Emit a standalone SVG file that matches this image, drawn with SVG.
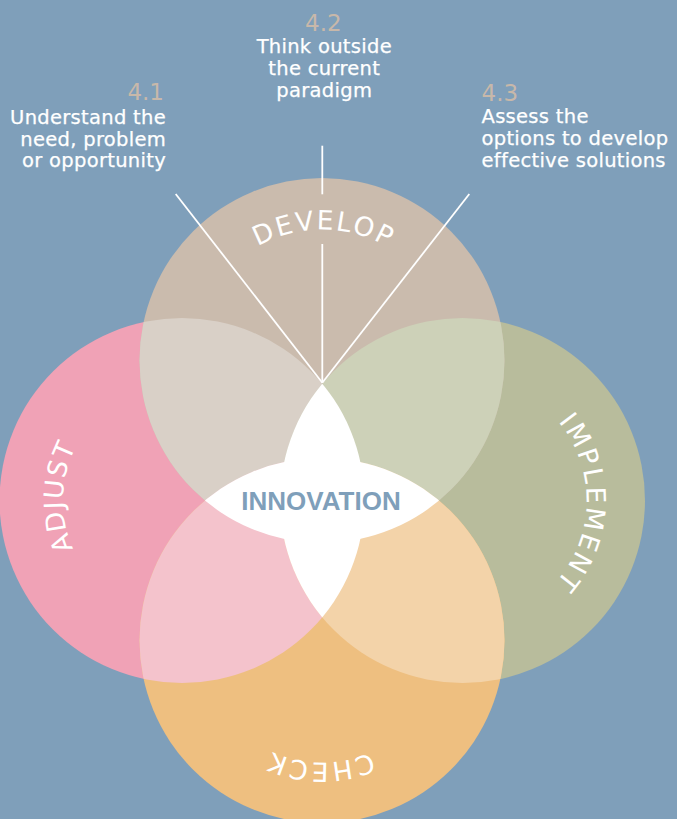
<svg xmlns="http://www.w3.org/2000/svg" width="677" height="819" viewBox="0 0 677 819">
<style>
.cap{font-family:"DejaVu Sans","Liberation Sans",sans-serif;font-size:19.5px;fill:#ffffff;stroke:#ffffff;stroke-width:0.25px;letter-spacing:0.3px}
.num{font-family:"DejaVu Sans","Liberation Sans",sans-serif;font-size:23px;fill:#c8b8aa}
.lbl{font-family:"DejaVu Sans","Liberation Sans",sans-serif;font-size:26.5px;fill:#ffffff}
.conn{stroke:#ffffff;stroke-width:1.8;fill:none}
</style>
<defs>
<clipPath id="clipT"><circle cx="322" cy="360.5" r="182.5"/></clipPath>
<clipPath id="clipB"><circle cx="322" cy="640.5" r="182.5"/></clipPath>
<clipPath id="clipR"><circle cx="462.5" cy="500.5" r="182.5"/></clipPath>
<path id="pDev" d="M322,491.5 A131,131 0 0 1 322,229.5 A131,131 0 0 1 322,491.5"/>
<path id="pAdj" d="M301,500.5 A119,119 0 0 1 63,500.5 A119,119 0 0 1 301,500.5"/>
<path id="pImp" d="M338.5,500.5 A124,124 0 0 1 586.5,500.5 A124,124 0 0 1 338.5,500.5"/>
<path id="pChk" d="M322,518.5 A122,122 0 0 1 322,762.5 A122,122 0 0 1 322,518.5"/>
</defs>
<rect width="677" height="819" fill="#7f9fba"/>

<g id="circles">
<circle id="c-adjust" cx="182" cy="500.5" r="182.5" fill="#f0a2b6"/>
<circle id="c-implement" cx="462.5" cy="500.5" r="182.5" fill="#b8bc9c"/>
<circle id="c-develop" cx="322" cy="360.5" r="182.5" fill="#cabbad"/>
<circle id="c-check" cx="322" cy="640.5" r="182.5" fill="#eebf80"/>
<circle cx="182" cy="500.5" r="182.5" fill="#d9d0c7" clip-path="url(#clipT)"/>
<circle cx="462.5" cy="500.5" r="182.5" fill="#cdd1b8" clip-path="url(#clipT)"/>
<circle cx="182" cy="500.5" r="182.5" fill="#f4c3cc" clip-path="url(#clipB)"/>
<circle cx="462.5" cy="500.5" r="182.5" fill="#f3d3a9" clip-path="url(#clipB)"/>
</g>

<g id="innovation">
<circle cx="182" cy="500.5" r="182.5" fill="#ffffff" clip-path="url(#clipR)"/>
<circle cx="322" cy="360.5" r="182.5" fill="#ffffff" clip-path="url(#clipB)"/>
<text x="321" y="510" text-anchor="middle" font-family="'Liberation Sans',Arial,sans-serif" font-weight="bold" font-size="26" fill="#7f9fba">INNOVATION</text>
</g>

<g id="connectors">
<line class="conn" x1="175.7" y1="194" x2="322.3" y2="382.7"/>
<line class="conn" x1="469.3" y1="194" x2="322.3" y2="382.7"/>
<line class="conn" x1="322.3" y1="145.7" x2="322.3" y2="194.3"/>
<line class="conn" x1="322.3" y1="244" x2="322.3" y2="382.7"/>
</g>

<g id="develop">
<text class="lbl" style="letter-spacing:2.1px"><textPath href="#pDev" startOffset="50.2%" text-anchor="middle">DEVELOP</textPath></text>
</g>
<g id="adjust">
<text class="lbl" style="letter-spacing:1.4px"><textPath href="#pAdj" startOffset="50.5%" text-anchor="middle">ADJUST</textPath></text>
</g>
<g id="implement">
<text class="lbl" style="letter-spacing:2.6px"><textPath href="#pImp" startOffset="50.4%" text-anchor="middle">IMPLEMENT</textPath></text>
</g>
<g id="check">
<text class="lbl" style="letter-spacing:2.4px"><textPath href="#pChk" startOffset="50.2%" text-anchor="middle">CHECK</textPath></text>
</g>

<g id="step-4-1">
<text class="num" x="164" y="100" text-anchor="end">4.1</text>
<text class="cap" text-anchor="end"><tspan x="166" y="123.5">Understand the</tspan><tspan x="166" y="145.5">need, problem</tspan><tspan x="166" y="167">or opportunity</tspan></text>
</g>
<g id="step-4-2">
<text class="num" x="323.3" y="31" text-anchor="middle">4.2</text>
<text class="cap" text-anchor="middle"><tspan x="324.3" y="52.7">Think outside</tspan><tspan x="324.3" y="75">the current</tspan><tspan x="324.3" y="96.7">paradigm</tspan></text>
</g>
<g id="step-4-3">
<text class="num" x="481.5" y="101">4.3</text>
<text class="cap"><tspan x="481.5" y="123.3">Assess the</tspan><tspan x="481.5" y="145">options to develop</tspan><tspan x="481.5" y="166.7">effective solutions</tspan></text>
</g>
</svg>
